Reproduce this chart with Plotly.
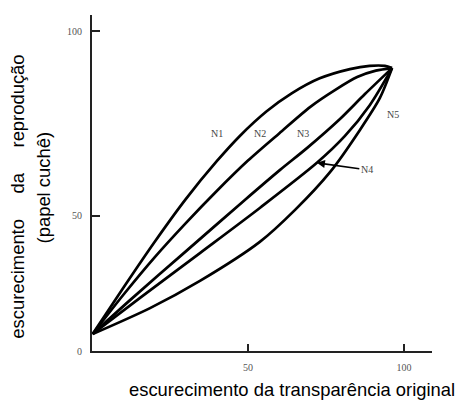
import plotly.graph_objects as go

# ---- data ----
n1_x = [0.2, 10, 20, 30, 40, 47.4, 56, 64, 73, 82.7, 89, 93.9, 96.2]
n1_y = [5.3, 19.7, 34.0, 47.4, 59.3, 67.2, 74.9, 80.5, 85.2, 88.1, 89.1, 89.1, 88.4]

n2_x = [0.2, 10, 20, 30, 40, 50, 60, 70, 78, 85, 91, 96.2]
n2_y = [5.3, 17.5, 29.2, 39.9, 50.0, 59.5, 68.0, 76.3, 81.6, 85.6, 87.6, 88.4]

n3_x = [0.2, 12.2, 29.8, 49.0, 60.3, 68.9, 79.5, 87.5, 96.2]
n3_y = [5.3, 15.9, 30.9, 47.2, 56.6, 63.4, 72.5, 80.3, 88.4]

n4_x = [0.2, 15.4, 34.6, 53.8, 72.1, 81.1, 89.1, 96.2]
n4_y = [5.3, 16.6, 30.6, 44.7, 58.8, 67.2, 76.9, 88.4]

n5_x = [0.2, 18.6, 34.6, 53.8, 65.1, 76.3, 85.9, 92.3, 96.2]
n5_y = [5.3, 13.4, 21.9, 34.1, 44.1, 55.9, 69.1, 79.1, 88.4]

curve_names = ["N1", "N2", "N3", "N4", "N5"]
label_x = [40.1, 53.8, 67.6, 88.1, 96.5]
label_y = [68.1, 68.1, 68.1, 56.6, 73.8]
n4_arrow_tip = (72.1, 58.8)

x_tick_vals = [50, 100]
x_tick_text = ["50", "100"]
y_tick_vals = [0, 42.2, 100]
y_tick_text = ["0", "50", "100"]

gap = "\u00a0" * 5
x_title = "escurecimento da transparência original"
y_title_1 = "escurecimento" + gap + "da" + gap + "reprodução"
y_title_2 = "(papel cuchê)"

# ---- figure ----
fig = go.Figure()
for xs, ys in [(n1_x, n1_y), (n2_x, n2_y), (n3_x, n3_y), (n4_x, n4_y), (n5_x, n5_y)]:
    fig.add_trace(go.Scatter(
        x=xs, y=ys, mode="lines",
        line=dict(color="black", width=2.7, shape="spline", smoothing=0.8),
        showlegend=False, hoverinfo="skip"))

label_font = dict(family="Liberation Serif", size=10, color="#444")
for name, lx, ly in zip(curve_names, label_x, label_y):
    if name == "N4":
        fig.add_annotation(x=n4_arrow_tip[0], y=n4_arrow_tip[1], ax=lx, ay=ly,
                           axref="x", ayref="y", text=name, showarrow=True,
                           arrowhead=2, arrowsize=1, arrowwidth=1.6,
                           arrowcolor="black", font=label_font)
    else:
        fig.add_annotation(x=lx, y=ly, text=name, showarrow=False, font=label_font)

title_font = dict(family="Liberation Sans", size=18.4, color="black")
fig.add_annotation(xref="paper", yref="paper", x=0.588, y=-0.116, text=x_title,
                   showarrow=False, font=title_font, xanchor="center", yanchor="middle")
fig.add_annotation(xref="paper", yref="paper", x=-0.22, y=0.46, text=y_title_1,
                   textangle=-90, showarrow=False, font=title_font,
                   xanchor="center", yanchor="middle")
fig.add_annotation(xref="paper", yref="paper", x=-0.143, y=0.485, text=y_title_2,
                   textangle=-90, showarrow=False, font=title_font,
                   xanchor="center", yanchor="middle")

tick_font = dict(family="Liberation Serif", size=10, color="#555")
fig.update_xaxes(range=[0, 109], showgrid=False, zeroline=False, showline=True,
                 linecolor="#222", linewidth=2, ticks="inside", ticklen=7,
                 tickwidth=1.5, tickcolor="#222", tickvals=x_tick_vals,
                 ticktext=x_tick_text, tickfont=tick_font, ticklabelstandoff=6)
fig.update_yaxes(range=[0, 105], showgrid=False, zeroline=False, showline=True,
                 linecolor="#222", linewidth=2, ticks="inside", ticklen=8,
                 tickwidth=1.5, tickcolor="#222", tickvals=y_tick_vals,
                 ticktext=y_tick_text, tickfont=tick_font, ticklabelstandoff=6)

# the page adds an 8px body margin, so the figure is sized to the visible area
fig.update_layout(width=459, height=397, margin=dict(l=84, r=35, t=7, b=54),
                  plot_bgcolor="white", paper_bgcolor="white")

fig.write_html("out.html")
